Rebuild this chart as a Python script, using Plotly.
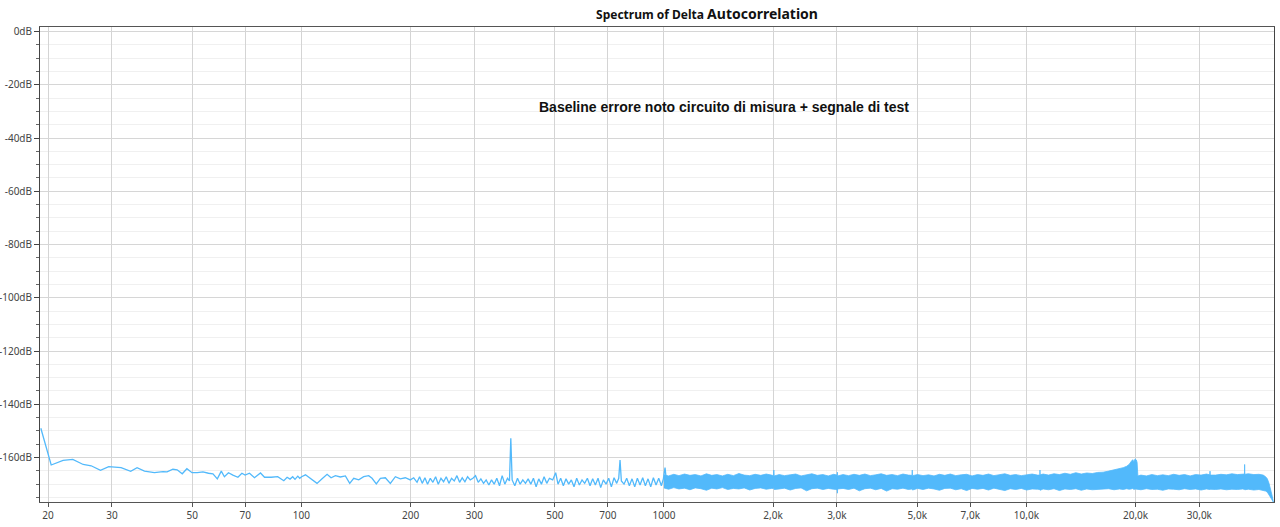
import math
import plotly.graph_objects as go

# ---------------- data ----------------
# Low / mid frequency part of the spectrum (individually visible points)
low_freq = [19.1, 20.4, 22.0, 23.4, 25.0, 26.3, 27.9, 29.4, 31.8, 33.8, 35.2, 36.9, 39.3, 41.5, 42.6,
            44.2, 45.4, 46.9, 48.3, 49.9, 51.6, 53.5, 55.4, 57.0, 58.6, 60.1, 61.3, 62.9, 64.7, 66.8,
            68.5, 69.9, 71.9, 74.2, 77.1, 79.1, 82.5, 86.0, 89.4, 91.3, 93.0, 94.6, 96.0, 97.7, 98.9,
            100.1, 102.6, 105.9, 110.4, 114.0, 117.7, 120.7, 124.1, 128.0, 132.2, 135.9, 139.4, 143.9,
            148.5, 153.3, 156.6, 160.9, 165.1, 170.4, 175.9, 181.6, 187.4, 193.4, 199.7, 204.0, 208.4,
            211.8, 215.4, 219.1, 222.8, 226.7, 230.5, 234.5, 238.5, 242.6, 246.7, 250.9, 255.2, 259.5,
            264.0, 268.5, 273.1, 277.7, 282.5, 287.3, 292.2, 297.2, 302.2, 307.4, 312.6, 318.0, 323.3,
            328.9, 334.5, 340.2, 345.9, 351.9, 357.9, 364.0, 370.2, 374.9, 378.1, 381.3, 387.8, 394.5,
            401.2, 408.1, 415.0, 422.1, 429.3, 436.5, 444.0, 451.5, 459.3, 467.1, 475.1, 483.2, 493.4,
            502.8, 510.3, 519.0, 527.9, 536.9, 546.1, 555.4, 564.9, 574.6, 584.4, 594.4, 604.5, 614.9,
            625.4, 636.1, 646.9, 658.0, 669.2, 680.7, 692.3, 704.2, 716.2, 728.5, 740.9, 750.4, 756.7,
            763.1, 776.2, 789.4, 802.9, 816.6, 830.6, 844.8, 859.2, 873.9, 888.9, 904.1, 919.5, 935.3,
            951.2, 967.5, 984.0, 996.5, 1007.1, 1017.8]
low_db = [-149.0, -162.8, -161.1, -160.7, -162.6, -163.1, -164.8, -163.4, -163.8, -165.2, -163.8, -165.1,
          -165.7, -165.3, -165.4, -164.4, -164.6, -166.1, -164.2, -165.7, -165.7, -165.4, -165.9, -166.1,
          -168.0, -165.1, -167.2, -165.7, -166.6, -167.4, -165.9, -166.6, -165.9, -167.6, -165.8, -167.4,
          -167.4, -167.2, -168.7, -167.4, -168.1, -167.2, -168.2, -167.0, -167.8,
          -167.2, -166.5, -167.8, -169.7, -168.0, -166.3, -167.6, -166.8, -167.3, -166.9, -169.7, -167.8,
          -168.4, -167.2, -166.8, -167.8, -169.9, -167.8, -167.6, -169.7, -167.2, -168.0, -167.6, -168.4,
          -167.6, -169.3, -167.2, -169.7, -167.6, -170.0, -167.8, -169.3, -167.2, -170.0, -167.8, -169.1,
          -167.2, -169.7, -167.8, -168.8, -166.8, -169.3, -167.6, -169.1, -167.2, -168.4, -167.8, -166.8,
          -169.3, -168.0, -169.7, -168.4, -170.3, -168.4, -170.0, -167.8, -170.6, -166.8, -170.0, -167.8,
          -168.8, -152.8, -168.4, -170.6, -167.8, -170.0, -168.4, -169.7, -168.0, -170.0, -167.8, -171.0,
          -168.0, -170.0, -167.2, -169.7, -167.8, -168.4, -165.7, -170.0, -167.8, -170.6, -168.0, -170.0,
          -168.4, -171.0, -167.8, -170.3, -168.4, -169.7, -167.8, -170.6, -168.0, -170.3, -167.8, -171.3,
          -168.4, -170.0, -167.8, -171.0, -167.6, -169.7, -167.8, -160.9, -168.8, -170.0, -167.8, -170.6,
          -168.0, -171.0, -167.8, -170.3, -167.6, -170.6, -168.0, -171.0, -167.6, -170.3, -167.8, -170.6,
          -168.0, -163.8, -169.7]

# High frequency part: dense noise band, upper and lower edges
band_freq = [1000, 1030, 1065, 1100, 1140, 1180, 1220, 1265, 1310, 1355, 1400, 1450, 1500, 1555, 1610,
             1665, 1725, 1785, 1850, 1915, 1980,
             2005, 2010, 2015,
             2080, 2150, 2230, 2310, 2390, 2475, 2560, 2650, 2745, 2840, 2940,
             3005, 3010, 3015,
             3120, 3230, 3345, 3460, 3585, 3710, 3840, 3975, 4115, 4260, 4410, 4565, 4725,
             4835, 4843, 4850,
             5010, 5185, 5370, 5560, 5755, 5955, 6165, 6385, 6610, 6840, 7080, 7330, 7590, 7860, 8135,
             8420, 8720, 9025, 9345, 9675, 10015, 10370, 10735,
             10890, 10900, 10910,
             11120, 11510, 11915, 12335, 12770, 13220, 13690, 14170, 14670, 15190, 15725,
             16280, 16855, 17450, 18065, 18500, 18900, 19200, 19450, 19650, 19800, 19950, 20100, 20200,
             20300, 20700, 21430, 22190, 22970, 23780, 24620, 25490, 26390, 27320, 28290, 29290, 30320,
             31390,
             32050, 32100, 32150,
             33240, 34410, 35630, 36890, 38190, 39550,
             39950, 40000, 40050,
             40950, 42400, 43800, 45000, 45700, 46200, 46700, 47200, 47700, 48000]
band_upper = [-166.5, -166.9, -166.3, -166.8, -166.2, -166.7, -166.4, -166.9, -166.1, -166.7, -166.4, -166.9,
              -166.3, -166.8, -166.0, -166.6, -166.8, -166.3, -166.7, -166.2, -166.6,
              -166.8, -164.7, -166.9,
              -166.4, -166.8, -166.5, -166.2, -166.9, -166.5, -166.1, -166.7, -166.4, -166.9, -166.3,
              -166.6, -165.5, -166.9,
              -166.4, -166.8, -166.3, -166.7, -166.2, -166.8, -166.5, -166.1, -166.7, -166.4, -166.8,
              -166.2, -166.6,
              -166.7, -164.7, -166.8,
              -166.4, -166.8, -166.5, -166.9, -166.3, -166.7, -166.2, -166.8, -166.5, -166.3, -166.9,
              -166.4, -166.7, -166.2, -166.8, -166.5, -166.1, -166.7, -166.4, -166.8, -166.4, -166.2,
              -166.6,
              -166.6, -164.7, -166.5,
              -166.2, -166.6, -166.1, -166.4, -165.9, -166.3, -165.7, -166.2, -165.8, -166.0, -165.6,
              -165.5, -165.1, -164.7, -164.2, -163.8, -163.3, -162.6, -161.5, -160.8, -161.6, -160.5,
              -160.9, -161.8,
              -166.9, -166.6, -166.9, -166.4, -166.8, -166.5, -166.8, -166.3, -166.7, -166.4, -166.9,
              -166.4, -166.6, -166.2,
              -166.5, -165.1, -166.6,
              -166.6, -166.3, -166.5, -166.1, -166.4, -166.1,
              -166.2, -162.6, -166.3,
              -166.1, -166.4, -166.3, -166.6, -167.2, -168.0, -169.7, -171.8, -174.7, -176.7]
band_lower = [-171.4, -171.9, -171.3, -171.8, -171.5, -172.1, -171.4, -171.7, -172.3, -171.5, -171.8, -171.3,
              -172.0, -171.6, -171.8, -171.4, -172.2, -171.6, -171.4, -171.9, -171.6,
              -171.6, -171.2, -172.0,
              -171.8, -171.5, -172.2, -171.6, -171.4, -172.5, -171.7, -171.5, -172.0, -171.6, -171.9,
              -172.0, -173.4, -171.8,
              -171.6, -172.0, -171.5, -172.5, -171.7, -171.5, -172.1, -171.6, -172.6, -171.7, -171.9,
              -171.5, -172.0,
              -171.8, -171.6, -172.2,
              -171.6, -172.0, -171.5, -171.8, -172.3, -171.6, -171.5, -172.1, -171.7, -172.4, -171.6,
              -171.9, -171.6, -172.2, -171.5, -171.8, -172.4, -171.7, -172.0, -171.6, -172.2, -171.8,
              -171.9,
              -172.0, -171.8, -172.3,
              -171.8, -172.1, -171.7, -172.4, -171.8, -172.0, -171.7, -172.3, -171.8, -172.1, -171.9,
              -171.9, -171.7, -172.1, -171.8, -172.0, -171.7, -171.9, -171.8, -171.6, -172.0, -171.8,
              -171.7, -171.9,
              -171.8, -172.1, -171.7, -172.0, -171.9, -172.3, -171.8, -171.9, -172.1, -171.7, -172.0,
              -171.8, -172.2, -171.8,
              -172.0, -172.1, -171.9,
              -172.0, -171.8, -172.1, -171.9, -172.0, -171.8,
              -172.0, -171.9, -172.1,
              -171.9, -172.2, -172.0, -172.3, -172.6, -173.0, -173.6, -174.8, -176.0, -176.7]

x_tickvals = [20, 30, 50, 70, 100, 200, 300, 500, 700, 1000, 2000, 3000, 5000, 7000, 10000, 20000, 30000]
x_ticktext = ["20", "30", "50", "70", "100", "200", "300", "500", "700", "1000",
              "2,0k", "3,0k", "5,0k", "7,0k", "10,0k", "20,0k", "30,0k"]
y_tickvals = [0, -20, -40, -60, -80, -100, -120, -140, -160]
y_ticktext = ["0dB", "-20dB", "-40dB", "-60dB", "-80dB", "-100dB", "-120dB", "-140dB", "-160dB"]

note_text = "Baseline errore noto circuito di misura + segnale di test"

assert len(low_freq) == len(low_db)
assert len(band_freq) == len(band_upper) == len(band_lower)

# ---------------- figure ----------------
BLUE = "#52b9fb"
fig = go.Figure()

fig.add_trace(go.Scatter(
    x=band_freq + band_freq[::-1],
    y=band_upper + band_lower[::-1],
    mode="lines", fill="toself", fillcolor=BLUE,
    line=dict(color=BLUE, width=0.8), hoverinfo="skip", showlegend=False))

fig.add_trace(go.Scatter(
    x=low_freq, y=low_db, mode="lines",
    line=dict(color=BLUE, width=1.3), showlegend=False))

fig.update_xaxes(
    type="log", range=[math.log10(19.0), math.log10(48200)],
    tickvals=x_tickvals, ticktext=x_ticktext,
    showgrid=True, gridcolor="#d4d4d4", gridwidth=1,
    ticks="outside", ticklen=4, tickcolor="#555",
    showline=True, linecolor="#555", linewidth=1, mirror=True,
    tickfont=dict(family="Noto Sans, Open Sans, sans-serif", size=10, color="#444"),
    zeroline=False, automargin=False)

fig.update_yaxes(
    range=[-176.7, 1.7],
    tickvals=y_tickvals, ticktext=y_ticktext,
    showgrid=True, gridcolor="#d6d6d6", gridwidth=1,
    ticks="outside", ticklen=5, tickcolor="#444",
    minor=dict(dtick=5, tick0=0, showgrid=True, gridcolor="#f0f0f0", ticks="outside",
               ticklen=3, tickcolor="#666"),
    showline=True, linecolor="#444", linewidth=1, mirror=True,
    tickfont=dict(family="Noto Sans, Open Sans, sans-serif", size=10, color="#444"),
    zeroline=False, automargin=False)

fig.update_layout(
    width=1280, height=527,
    margin=dict(l=40, r=6, t=27, b=25, autoexpand=False),
    paper_bgcolor="white", plot_bgcolor="white",
    title=dict(
        text="<b>Spectrum of Delta <span style='font-size:14px'>Autocorrelation</span></b>",
        x=707 / 1280, xanchor="center", xref="container",
        y=1 - 15 / 527, yanchor="middle", yref="container",
        font=dict(family="Noto Sans, Open Sans, sans-serif", size=12, color="#111")),
    annotations=[dict(
        text="<b>" + note_text + "</b>",
        xref="paper", yref="paper",
        x=(724 - 40) / 1234, y=(502.3 - 107) / 475.3,
        xanchor="center", yanchor="middle", showarrow=False,
        font=dict(family="Liberation Sans, Arial, sans-serif", size=14, color="#111"))],
)

# remove the default page margin so the 1280x527 figure fills the window exactly
fig.write_html("out.html",
               config={"displayModeBar": False},
               post_script="document.body.style.margin='0';document.body.style.overflow='hidden';")
